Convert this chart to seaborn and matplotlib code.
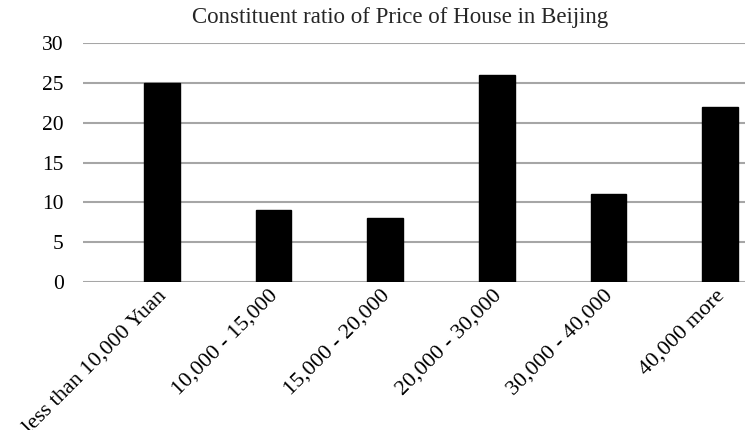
import matplotlib
matplotlib.use("Agg")
import matplotlib.pyplot as plt
import matplotlib.transforms as mtransforms
import seaborn as sns
import pandas as pd

categories = ["less than 10,000 Yuan", "10,000 - 15,000", "15,000 - 20,000",
              "20,000 - 30,000", "30,000 - 40,000", "40,000 more"]
ratios = [25, 9, 8, 26, 11, 22]
y_ticks = [0, 5, 10, 15, 20, 25, 30]
title = "Constituent ratio of Price of House in Beijing"

df = pd.DataFrame({"range": categories, "ratio": ratios})

sns.set_style("white")
plt.rcParams["font.family"] = ["Liberation Serif", "DejaVu Serif"]

fig = plt.figure(figsize=(7.45, 4.30), dpi=100)
ax = fig.add_axes([83 / 745, 1 - 282 / 430, 1 - 83 / 745, (282 - 43) / 430])

sns.barplot(data=df, x="range", y="ratio", color="black", width=0.32,
            edgecolor="black", ax=ax, zorder=3)

ax.set_ylim(0, 30)
ax.set_yticks(y_ticks)
ax.set_xlim(-0.708, 5.224)
ax.grid(axis="y", color="#a6a6a6", linewidth=1.5, zorder=0)
ax.grid(axis="x", visible=False)
for s in ax.spines.values():
    s.set_visible(False)

ax.tick_params(axis="y", length=0, pad=14, labelsize=15.5, labelcolor="black")
ax.tick_params(axis="x", length=0, pad=3, labelsize=16, labelcolor="black")
# nudge rotated labels a bit left so their ends sit over the bars
shift = mtransforms.ScaledTranslation(-5 / 100, 0, fig.dpi_scale_trans)
for lab in ax.get_xticklabels():
    lab.set_rotation(45)
    lab.set_ha("right")
    lab.set_rotation_mode("anchor")
    lab.set_transform(lab.get_transform() + shift)
ax.set_xlabel("")
ax.set_ylabel("")

fig.text(400 / 745, 1 - 18 / 430, title, ha="center", va="center", fontsize=16.5)

fig.savefig("out.png", dpi=100)
